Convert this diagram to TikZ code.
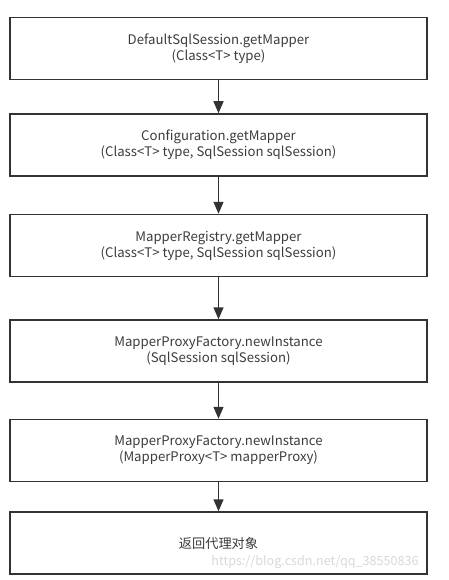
\documentclass[tikz,border=0pt]{standalone}
\usepackage{fontspec}
\setmainfont{Noto Sans CJK SC}
\usepackage{tikz}
\usetikzlibrary{positioning,arrows.meta}
\definecolor{linegray}{HTML}{333333}
\definecolor{textgray}{HTML}{3C3C3C}
\definecolor{markgray}{HTML}{D8D8D8}

\begin{document}
\begin{tikzpicture}[->,>={Triangle[length=12pt,width=10pt]},line width=1.5pt,
  draw=linegray,every node/.style={rectangle,draw=linegray,text=textgray,
  minimum width=417pt,minimum height=62pt,align=center,
  font=\fontsize{13.2}{16}\selectfont}]

  \useasboundingbox (0pt,0pt) rectangle (449pt,-580pt);

  \node (dss) at (218.5pt,-48.5pt) {DefaultSqlSession.getMapper\\(Class<T> type)};
  \node (cfg) [below=33pt of dss] {Configuration.getMapper\\(Class<T> type, SqlSession sqlSession)};
  \node (reg) [below=37pt of cfg] {MapperRegistry.getMapper\\(Class<T> type, SqlSession sqlSession)};
  \node (pf1) [below=42pt of reg] {MapperProxyFactory.newInstance\\(SqlSession sqlSession)};
  \node (pf2) [below=36pt of pf1] {MapperProxyFactory.newInstance\\(MapperProxy<T> mapperProxy)};
  \node (ret) [below=29pt of pf2] {返回代理对象};

  \path[linegray]
    (dss) edge (cfg)
    (cfg) edge (reg)
    (reg) edge (pf1)
    (pf1) edge (pf2)
    (pf2) edge (ret);

  \node (wm) [draw=none,minimum width=0pt,minimum height=0pt,text=markgray,
    font=\fontsize{12.6}{16}\selectfont] at (315pt,-562pt) {https://blog.csdn.net/qq\_38550836};

\end{tikzpicture}
\end{document}
